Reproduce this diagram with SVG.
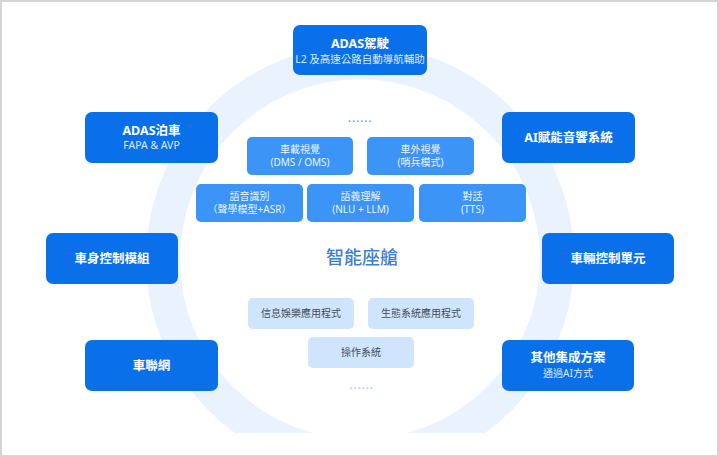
<svg xmlns="http://www.w3.org/2000/svg" width="719" height="457" viewBox="0 0 719 457">
<defs>
<style>
.bg{fill:#ffffff;stroke:#d4d4d4;stroke-width:2}
.ring{fill:#eaf2fd}
.dk{fill:#0a70ea}
.md{fill:#3b94f6}
.lt{fill:#cfe4fd}
text{font-family:"Noto Sans","Noto Sans CJK TC",sans-serif;text-anchor:middle}
.t{fill:#ffffff;font-size:12.5px;font-weight:bold}
.s{fill:#dcebff;font-size:10.5px}
.s2{fill:#dcebff;font-size:10px}
.m{fill:#eaf3ff;font-size:10px}
.l{fill:#454d5a;font-size:10px}
.c{fill:#3d7fd3;font-size:18px;font-weight:500}
.dots{fill:#5a9df0;font-size:13px;letter-spacing:0.6px}
.dots2{fill:#a9c9f4;font-size:13px;letter-spacing:0.6px}
</style>
<clipPath id="clip"><rect x="0" y="0" width="719" height="433"/></clipPath>
</defs>
<rect class="bg" x="1" y="1" width="717" height="455"/>
<path class="ring" clip-path="url(#clip)" fill-rule="evenodd" d="M146,259.3a214,214 0 1,0 428,0a214,214 0 1,0 -428,0ZM180,259.3a180,180 0 1,0 360,0a180,180 0 1,0 -360,0Z"/>
<g id="connectors"></g>
<g id="n-adas-drive"><rect class="dk" x="293" y="25" width="134" height="50" rx="7"/><text class="t" x="360" y="48">ADAS駕駛</text><text class="s" x="360" y="63">L2 及高速公路自動導航輔助</text></g>
<g id="n-adas-park"><rect class="dk" x="85" y="112" width="133" height="51" rx="7"/><text class="t" x="151.5" y="135">ADAS泊車</text><text class="s" x="151.5" y="149">FAPA &amp; AVP</text></g>
<g id="n-ai-audio"><rect class="dk" x="502" y="112" width="133" height="51" rx="7"/><text class="t" x="568.5" y="142">AI賦能音響系統</text></g>
<g id="n-body"><rect class="dk" x="46" y="233" width="132" height="51" rx="7"/><text class="t" x="112" y="263">車身控制模組</text></g>
<g id="n-vcu"><rect class="dk" x="542" y="233" width="132" height="51" rx="7"/><text class="t" x="608" y="263">車輛控制單元</text></g>
<g id="n-iov"><rect class="dk" x="85" y="340" width="133" height="51" rx="7"/><text class="t" x="151.5" y="370">車聯網</text></g>
<g id="n-other"><rect class="dk" x="502" y="340" width="132" height="51" rx="7"/><text class="t" x="568" y="362">其他集成方案</text><text class="s2" x="568" y="377">通過AI方式</text></g>
<g id="n-dots-top"><text class="dots" x="360" y="122">......</text></g>
<g id="n-dms"><rect class="md" x="247" y="137" width="106" height="38" rx="5"/><text class="m" x="300" y="153">車載視覺</text><text class="m" x="300" y="166">(DMS / OMS)</text></g>
<g id="n-sentry"><rect class="md" x="367" y="137" width="107" height="38" rx="5"/><text class="m" x="420.5" y="153">車外視覺</text><text class="m" x="420.5" y="166">(哨兵模式)</text></g>
<g id="n-asr"><rect class="md" x="196" y="184" width="107" height="38" rx="5"/><text class="m" x="249.5" y="200">語音識別</text><text class="m" x="249.5" y="213">（聲學模型+ASR）</text></g>
<g id="n-nlu"><rect class="md" x="307" y="184" width="107" height="38" rx="5"/><text class="m" x="360.5" y="200">語義理解</text><text class="m" x="360.5" y="213">(NLU + LLM)</text></g>
<g id="n-tts"><rect class="md" x="419" y="184" width="107" height="38" rx="5"/><text class="m" x="472.5" y="200">對話</text><text class="m" x="472.5" y="213">(TTS)</text></g>
<g id="n-cockpit"><text class="c" x="362" y="264">智能座艙</text></g>
<g id="n-info"><rect class="lt" x="248" y="298" width="106" height="31" rx="5"/><text class="l" x="301" y="317">信息娛樂應用程式</text></g>
<g id="n-eco"><rect class="lt" x="368" y="298" width="106" height="31" rx="5"/><text class="l" x="421" y="317">生態系統應用程式</text></g>
<g id="n-os"><rect class="lt" x="308" y="337" width="106" height="31" rx="5"/><text class="l" x="361" y="356">操作系統</text></g>
<g id="n-dots-bottom"><text class="dots2" x="361.5" y="389">......</text></g>
</svg>
